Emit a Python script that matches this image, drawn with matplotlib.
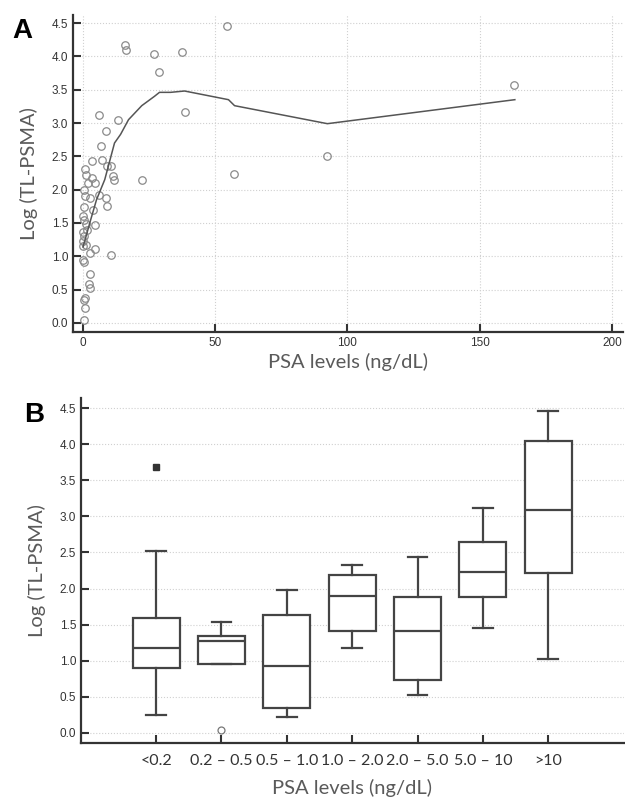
import matplotlib
matplotlib.use("Agg")
import matplotlib.pyplot as plt

# ---------------- Panel A data ----------------
psa = [54.5, 15.9, 16.3, 26.9, 37.6, 28.9, 163.1, 38.4, 6.0, 13.4, 8.6, 6.6, 92.4,
       3.2, 7.1, 10.7, 8.9, 0.9, 56.9, 1.1, 11.2, 3.3, 11.8, 22.2, 1.7, 4.7, 0.5,
       6.2, 0.8, 2.6, 8.8, 9.1, 0.3, 3.6, 0.0, 0.2, 1.1, 4.7, 1.5, 0.0, 0.2, 0.0,
       0.0, 1.1, 4.5, 2.6, 10.4, 0.0, 0.5, 2.6, 2.3, 2.6, 0.6, 0.5, 0.6, 0.2]
tl = [4.45, 4.17, 4.09, 4.03, 4.06, 3.77, 3.57, 3.16, 3.12, 3.04, 2.88, 2.65, 2.50,
      2.43, 2.44, 2.36, 2.35, 2.31, 2.23, 2.22, 2.21, 2.18, 2.14, 2.15, 2.10, 2.10, 1.99,
      1.92, 1.90, 1.88, 1.88, 1.75, 1.74, 1.70, 1.61, 1.55, 1.49, 1.47, 1.40, 1.36, 1.30, 1.23,
      1.16, 1.17, 1.11, 1.05, 1.02, 0.95, 0.92, 0.73, 0.58, 0.52, 0.37, 0.35, 0.22, 0.04]

loess_x = [0.0, 2.9, 5.1, 8.2, 11.9, 14.2, 17.2, 22.2, 27.0, 28.9, 33.1, 38.4, 55.0, 57.3, 92.4, 163.3]
loess_y = [1.14, 1.55, 1.85, 2.15, 2.70, 2.83, 3.05, 3.26, 3.40, 3.46, 3.46, 3.48, 3.35, 3.26, 2.99, 3.35]

xticks_a = [0, 50, 100, 150, 200]
yticks = [0.0, 0.5, 1.0, 1.5, 2.0, 2.5, 3.0, 3.5, 4.0, 4.5]

# ---------------- Panel B data ----------------
groups = ["<0.2", "0.2 \u2013 0.5", "0.5 \u2013 1.0", "1.0 \u2013 2.0", "2.0 \u2013 5.0", "5.0 \u2013 10", ">10"]
whis_hi = [2.52, 1.54, 1.98, 2.32, 2.43, 3.12, 4.46]
q3 = [1.585, 1.345, 1.63, 2.19, 1.88, 2.64, 4.04]
med = [1.17, 1.27, 0.92, 1.90, 1.41, 2.23, 3.09]
q1 = [0.90, 0.95, 0.34, 1.41, 0.73, 1.88, 2.22]
whis_lo = [0.245, 0.95, 0.22, 1.18, 0.52, 1.46, 1.02]
far_out_group = [1]
far_out_val = [3.68]
out_group = [2]
out_val = [0.04]

# ---------------- styling ----------------
tick_font = "Liberation Sans"
label_font = "Lato"
label_color = "#5a5a5a"
spine_color = "#333333"
grid_color = "#d0d0d0"

fig = plt.figure(figsize=(6.25, 7.99), dpi=100)

def style_axes(ax):
    for s in ("top", "right"):
        ax.spines[s].set_visible(False)
    for s in ("left", "bottom"):
        ax.spines[s].set_linewidth(1.6)
        ax.spines[s].set_color(spine_color)
    ax.tick_params(direction="in", length=6, width=1.5, color=spine_color,
                   labelcolor="#333333")
    ax.set_axisbelow(True)

# Panel A
axA = fig.add_axes([0.1168, 0.5845, 0.88, 0.3967])
style_axes(axA)
axA.plot(psa, tl, linestyle="none", marker="o", markersize=5.4,
         markerfacecolor="none", markeredgecolor="#8a8a8a", markeredgewidth=0.9)
axA.plot(loess_x, loess_y, color="#555555", linewidth=1.1)
axA.set_xlim(-3.8, 204.2)
axA.set_ylim(-0.135, 4.62)
axA.set_xticks(xticks_a)
axA.set_xticklabels([str(v) for v in xticks_a], fontfamily=tick_font, fontsize=8.5)
axA.set_yticks(yticks)
axA.set_yticklabels([f"{v:.1f}" for v in yticks], fontfamily=tick_font, fontsize=8.5)
axA.grid(True, axis="both", color=grid_color, linestyle=":", linewidth=0.8)
axA.set_xlabel("PSA levels (ng/dL)", fontfamily=label_font, fontsize=14.5,
               color=label_color, labelpad=3)
axA.set_ylabel("Log (TL-PSMA)", fontfamily=label_font, fontsize=14.5,
               color=label_color, labelpad=10)
fig.text(0.019, 0.953, "A", fontfamily="Liberation Sans", fontweight="bold",
         fontsize=20, color="black", va="baseline")

# Panel B
axB = fig.add_axes([0.1296, 0.0701, 0.8688, 0.4318])
style_axes(axB)
stats = []
for i in range(len(groups)):
    stats.append(dict(med=med[i], q1=q1[i], q3=q3[i], whislo=whis_lo[i],
                      whishi=whis_hi[i], fliers=[]))
positions = list(range(1, len(groups) + 1))
line_kw = dict(color="#444444", linewidth=1.6)
axB.bxp(stats, positions=positions, widths=0.72, capwidths=0.3, showfliers=False,
        patch_artist=True,
        boxprops=dict(facecolor="white", edgecolor="#444444", linewidth=1.6),
        medianprops=line_kw, whiskerprops=line_kw, capprops=line_kw)
axB.plot(far_out_group, far_out_val, linestyle="none", marker="s", markersize=5,
         color="#333333")
axB.plot(out_group, out_val, linestyle="none", marker="o", markersize=5,
         markerfacecolor="white", markeredgecolor="#777777", markeredgewidth=0.9)
axB.set_xlim(-0.15, 8.16)
axB.set_ylim(-0.14, 4.64)
axB.set_xticks(positions)
axB.set_xticklabels(groups, fontfamily=label_font, fontsize=11.5, color="#333333")
axB.set_yticks(yticks)
axB.set_yticklabels([f"{v:.1f}" for v in yticks], fontfamily=tick_font, fontsize=8.5)
axB.tick_params(axis="x", pad=8)
axB.grid(True, axis="y", color=grid_color, linestyle=":", linewidth=0.8)
axB.set_xlabel("PSA levels (ng/dL)", fontfamily=label_font, fontsize=14.5,
               color=label_color, labelpad=8)
axB.set_ylabel("Log (TL-PSMA)", fontfamily=label_font, fontsize=14.5,
               color=label_color, labelpad=10)
fig.text(0.038, 0.472, "B", fontfamily="Liberation Sans", fontweight="bold",
         fontsize=20, color="black", va="baseline")

fig.savefig("out.png", dpi=100)
